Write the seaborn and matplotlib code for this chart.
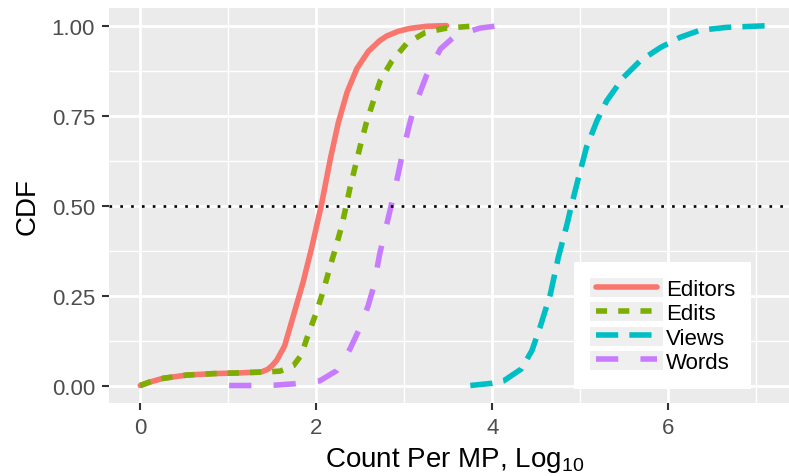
import numpy as np
import pandas as pd
import matplotlib
matplotlib.use("Agg")
import matplotlib.pyplot as plt
import seaborn as sns
from matplotlib.lines import Line2D
from matplotlib.patches import Rectangle
from matplotlib.legend_handler import HandlerLine2D
from matplotlib.ticker import MultipleLocator

# ---- data ----
series_order = ["Editors", "Edits", "Views", "Words"]

editors_x = [0.0, 0.10, 0.26, 0.53, 0.83, 1.13, 1.38, 1.45, 1.50, 1.55, 1.64, 1.74, 1.85, 1.95,
             2.06, 2.16, 2.25, 2.35, 2.46, 2.59, 2.72, 2.80, 2.93, 3.06, 3.25, 3.48]
editors_y = [0.0, 0.009, 0.02, 0.029, 0.033, 0.035, 0.038, 0.045, 0.056, 0.070, 0.11, 0.194, 0.287, 0.385,
             0.504, 0.630, 0.730, 0.815, 0.880, 0.928, 0.958, 0.971, 0.984, 0.992, 0.998, 1.0]

edits_x = [0.0, 0.10, 0.26, 0.53, 0.83, 1.13, 1.38, 1.59, 1.74, 1.83, 1.89, 2.0, 2.08, 2.16,
           2.21, 2.29, 2.34, 2.38, 2.50, 2.57, 2.65, 2.73, 2.86, 3.03, 3.24, 3.48, 3.75, 3.85]
edits_y = [0.0, 0.009, 0.02, 0.029, 0.033, 0.035, 0.037, 0.04, 0.055, 0.085, 0.129, 0.203, 0.263, 0.333,
           0.374, 0.444, 0.499, 0.546, 0.666, 0.731, 0.791, 0.849, 0.902, 0.951, 0.981, 0.993, 0.998, 1.0]

views_x = [3.75, 3.99, 4.13, 4.33, 4.45, 4.54, 4.66, 4.75, 4.85, 4.90, 4.98, 5.07, 5.19,
           5.30, 5.49, 5.68, 5.91, 6.13, 6.36, 6.66, 7.15]
views_y = [0.0, 0.006, 0.013, 0.046, 0.097, 0.16, 0.254, 0.356, 0.449, 0.501, 0.578, 0.662, 0.736,
           0.791, 0.856, 0.902, 0.939, 0.967, 0.987, 0.995, 1.0]

words_x = [1.01, 1.25, 1.53, 1.76, 2.04, 2.23, 2.38, 2.48, 2.59, 2.65, 2.72, 2.86, 2.93,
           2.97, 3.05, 3.10, 3.20, 3.25, 3.41, 3.58, 3.86, 4.08]
words_y = [0.0, 0.0, 0.001, 0.005, 0.013, 0.041, 0.10, 0.152, 0.222, 0.273, 0.365, 0.509, 0.587,
           0.634, 0.717, 0.763, 0.828, 0.86, 0.935, 0.972, 0.993, 1.0]

x_ticks = [0, 2, 4, 6]
y_ticks = [0.00, 0.25, 0.50, 0.75, 1.00]
y_tick_labels = ["0.00", "0.25", "0.50", "0.75", "1.00"]
median_level = 0.5

colors = {"Editors": "#F8766D", "Edits": "#7CAE00", "Views": "#00BFC4", "Words": "#C77CFF"}
dash_map = {"Editors": "", "Edits": (2, 2), "Views": (4, 2), "Words": (4, 4)}

frames = []
for name, xs, ys in [("Editors", editors_x, editors_y), ("Edits", edits_x, edits_y),
                     ("Views", views_x, views_y), ("Words", words_x, words_y)]:
    frames.append(pd.DataFrame({"x": xs, "y": ys, "series": name}))
df = pd.concat(frames, ignore_index=True)

# ---- style ----
sns.set_theme(style="darkgrid", rc={
    "axes.facecolor": "#EBEBEB",
    "grid.color": "white",
    "axes.edgecolor": "none",
})
plt.rcParams["font.family"] = ["Liberation Sans", "DejaVu Sans"]
plt.rcParams["mathtext.fontset"] = "custom"
plt.rcParams["mathtext.rm"] = "Liberation Sans"
plt.rcParams["mathtext.it"] = "Liberation Sans:italic"

fig = plt.figure(figsize=(7.89, 4.77), dpi=100)
ax = fig.add_axes([0.1379, 0.152, 0.8773, 0.830])

sns.lineplot(data=df, x="x", y="y", hue="series", style="series",
             hue_order=series_order, style_order=series_order,
             palette=colors, dashes=dash_map, sort=False, estimator=None,
             lw=4, legend=False, ax=ax)
for ln in ax.get_lines():
    ln.set_solid_joinstyle("round")

ax.axhline(median_level, color="black", lw=1.9, linestyle=(0, (1, 3.1)), zorder=5)

xmin, xmax = 0.0, 7.15
pad = 0.05 * (xmax - xmin)
ax.set_xlim(xmin - pad, xmax + pad)
ax.set_ylim(-0.05, 1.05)

ax.set_xticks(x_ticks)
ax.set_xticklabels([str(t) for t in x_ticks])
ax.set_yticks(y_ticks)
ax.set_yticklabels(y_tick_labels)
ax.xaxis.set_minor_locator(MultipleLocator(1))
ax.yaxis.set_minor_locator(MultipleLocator(0.125))

ax.grid(which="major", color="white", lw=2.0)
ax.grid(which="minor", color="white", lw=1.0)
ax.set_axisbelow(True)
for s in ax.spines.values():
    s.set_visible(False)

ax.tick_params(axis="both", which="major", length=5, width=1.5, color="#333333",
               labelsize=16, labelcolor="#4D4D4D", pad=5)
ax.tick_params(axis="both", which="minor", length=0)
ax.tick_params(axis="x", bottom=True)
ax.tick_params(axis="y", left=True)

ax.set_xlabel(r"Count Per MP, Log$_{\mathregular{10}}$", fontsize=20, color="black", labelpad=5)
ax.set_ylabel("CDF", fontsize=20, color="black", labelpad=8)


class KeyHandler(HandlerLine2D):
    def create_artists(self, legend, orig_handle, xdescent, ydescent, width, height, fontsize, trans):
        ext = 4.3
        arts = super().create_artists(legend, orig_handle, xdescent - ext, ydescent,
                                      width - 2 * ext, height, fontsize, trans)
        rect = Rectangle((-xdescent, -ydescent), width, height, facecolor="#EFEFEF",
                         edgecolor="none", transform=trans)
        return [rect] + list(arts)


handles = [Line2D([], [], color=colors[n], lw=4,
                  linestyle="-" if dash_map[n] == "" else (0, dash_map[n]))
           for n in series_order]
leg = ax.legend(handles, series_order, handler_map={Line2D: KeyHandler()},
                loc="upper left", bbox_to_anchor=(574 / 789, 1 - 263 / 477),
                bbox_transform=fig.transFigure, frameon=True, fancybox=False,
                framealpha=1, facecolor="white", edgecolor="none",
                fontsize=16, handlelength=3.29, handleheight=0.93,
                handletextpad=0.14, labelspacing=0.1, borderpad=0.72,
                borderaxespad=0)
for t in leg.get_texts():
    t.set_color("black")

fig.savefig("out.png", dpi=100)
